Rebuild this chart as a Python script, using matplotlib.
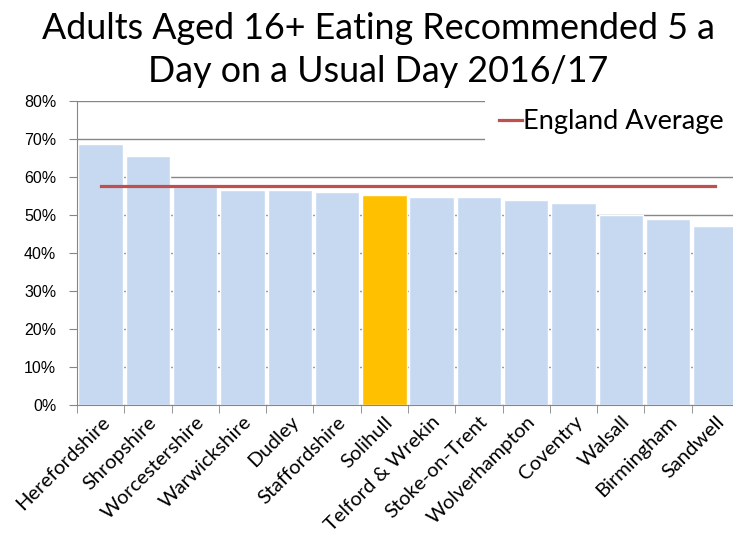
import numpy as np
import matplotlib.pyplot as plt
from matplotlib.ticker import PercentFormatter

areas = ['Herefordshire', 'Shropshire', 'Worcestershire', 'Warwickshire', 'Dudley',
         'Staffordshire', 'Solihull', 'Telford & Wrekin', 'Stoke-on-Trent',
         'Wolverhampton', 'Coventry', 'Walsall', 'Birmingham', 'Sandwell']
pct_5aday = [68.6, 65.6, 57.4, 56.5, 56.5, 56.0, 55.2, 54.7, 54.7, 53.9, 53.1, 49.9, 48.9, 47.2]
england_avg = 57.6
highlight = 'Solihull'

blue = '#C6D9F1'
gold = '#FFC000'
red = '#C0504D'
grid_grey = '#868686'

fig = plt.figure(figsize=(7.33, 5.39), dpi=100)
# axes runs slightly past the right edge, as in the original export
ax = fig.add_axes([77 / 733, 1 - 405 / 539, 662 / 733, 304 / 539])

x = np.arange(len(areas))
vals = np.array(pct_5aday) / 100
colors = [gold if a == highlight else blue for a in areas]
ax.bar(x, vals, width=0.94, color=colors, edgecolor='white', linewidth=1, zorder=2)
ax.plot(x, [england_avg / 100] * len(areas), color=red, linewidth=2.3,
        label='England Average', zorder=3)

ax.set_xlim(-0.5, len(areas) - 0.5)
ax.set_ylim(0, 0.8)
ax.set_yticks(np.arange(0, 0.81, 0.1))
ax.yaxis.set_major_formatter(PercentFormatter(1.0, decimals=0))
ax.grid(axis='y', color=grid_grey, linewidth=1, zorder=0)
ax.set_axisbelow(True)

ax.set_xticks(x)
ax.set_xticklabels(areas, rotation=45, ha='right', rotation_mode='anchor',
                   fontfamily='Lato', fontsize=14.5)
ax.set_xticks(np.arange(-0.5, len(areas), 1), minor=True)
ax.tick_params(axis='x', which='major', length=0, pad=6)
ax.tick_params(axis='x', which='minor', length=6, color=grid_grey)
ax.tick_params(axis='y', length=6, color=grid_grey, labelsize=11.5, pad=9)
for lbl in ax.get_yticklabels():
    lbl.set_fontfamily('Liberation Sans')

for side in ['top', 'right']:
    ax.spines[side].set_visible(False)
for side in ['left', 'bottom']:
    ax.spines[side].set_color(grid_grey)

leg = ax.legend(loc='center left', bbox_to_anchor=(485 / 733, 1 - 122 / 539),
                bbox_transform=fig.transFigure, frameon=True, fancybox=False,
                edgecolor='none', facecolor='white', framealpha=1,
                handlelength=0.85, handletextpad=0.05, borderpad=0.5,
                borderaxespad=0, prop={'family': 'Lato', 'size': 19.5})

fig.text(378 / 733, 1 - 50 / 539, 'Adults Aged 16+ Eating Recommended 5 a\nDay on a Usual Day 2016/17',
         ha='center', va='center', fontfamily='Lato', fontsize=25.8, linespacing=1.4)

fig.savefig('out.png', dpi=100)
